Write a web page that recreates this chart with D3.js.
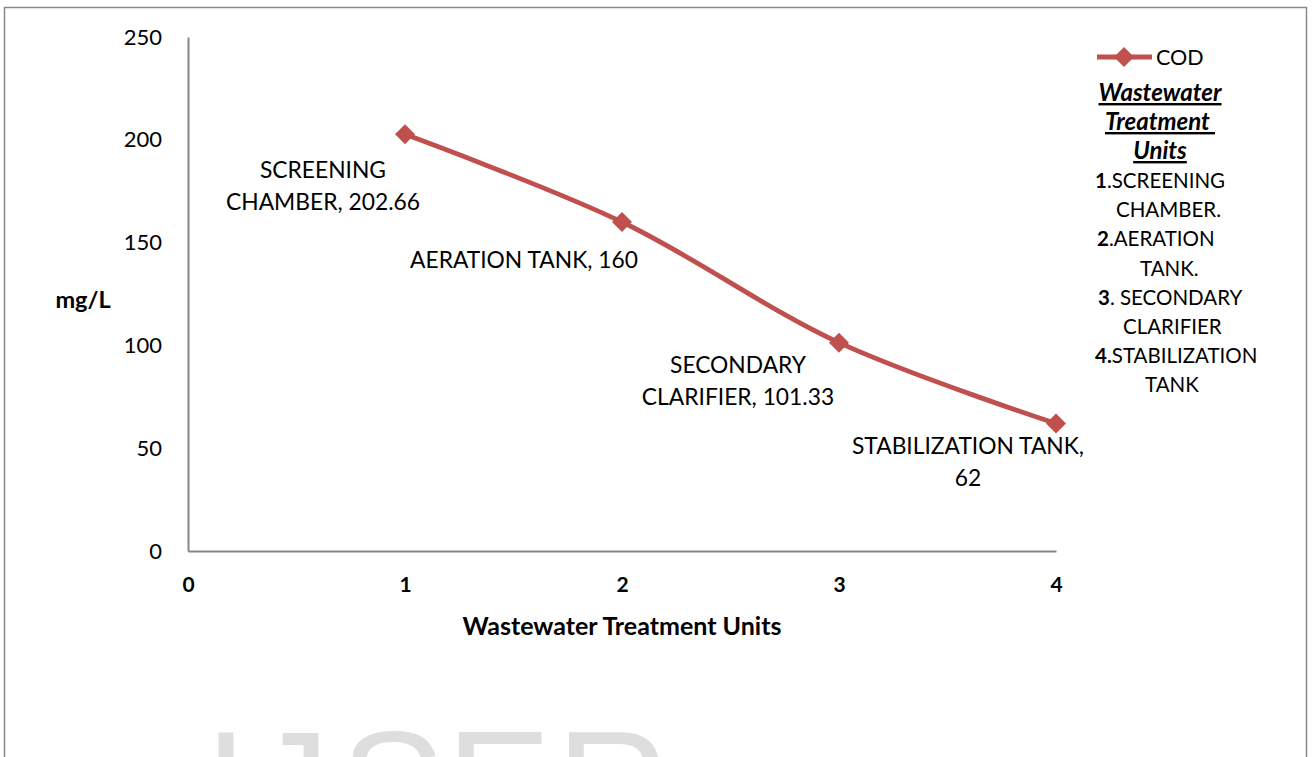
<!DOCTYPE html>
<html>
<head>
<meta charset="utf-8">
<script src="https://cdn.jsdelivr.net/npm/d3@7"></script>
<style>
  html, body { margin: 0; padding: 0; background: #fff; }
  svg { display: block; font-family: Lato, "Open Sans", sans-serif; }
</style>
</head>
<body>
<svg id="chart" width="1312" height="757"></svg>
<script>
// ---- data ----
const unitIndex = [1, 2, 3, 4];
const codValues = [202.66, 160, 101.33, 62];
const pointLabels = [
  ["SCREENING", "CHAMBER, 202.66"],
  ["AERATION TANK, 160"],
  ["SECONDARY", "CLARIFIER, 101.33"],
  ["STABILIZATION TANK,", "62"]
];
const xTicks = [0, 1, 2, 3, 4];
const yTicks = [0, 50, 100, 150, 200, 250];
const seriesName = "COD";
const xTitle = "Wastewater Treatment Units";
const yTitle = "mg/L";
const legendTitle = ["Wastewater", "Treatment ", "Units"];
const legendItems = [
  ["1", ".SCREENING"], ["", "CHAMBER."],
  ["2", ".AERATION"], ["", "TANK."],
  ["3", ". SECONDARY"], ["", "CLARIFIER"],
  ["4.", "STABILIZATION"], ["", "TANK"]
];
const watermark = ["I", "J", "S", "E", "R"];

// ---- layout ----
const svg = d3.select("#chart");
const red = "#C0504D";
const axisGrey = "#868686";

// outer frame
svg.append("path")
  .attr("d", "M4.5,800 V7.5 H1306.5 V800")
  .attr("fill", "none").attr("stroke", "#8a8a8a").attr("stroke-width", 1.5);

// watermark
const wmX = [204, 251, 340, 446, 556];
svg.append("g").selectAll("text").data(watermark).join("text")
  .attr("x", (d, i) => wmX[i]).attr("y", 841)
  .attr("font-family", "Liberation Sans, Arial, sans-serif")
  .attr("font-size", 158).attr("fill", "#dedede")
  .text(d => d);

const x = d3.scaleLinear().domain([0, 4]).range([188, 1056]);
const y = d3.scaleLinear().domain([0, 250]).range([551, 37]);

// y axis
const yAxis = svg.append("g").attr("transform", "translate(188,0)")
  .call(d3.axisLeft(y).tickValues(yTicks).tickSize(0).tickPadding(26));
yAxis.select(".domain").attr("stroke", axisGrey).attr("stroke-width", 2);
yAxis.selectAll("text").attr("font-size", 22).attr("fill", "#000")
  .attr("font-family", "Lato, sans-serif");

// x axis
const xAxis = svg.append("g").attr("transform", "translate(0,551)")
  .call(d3.axisBottom(x).tickValues(xTicks).tickSize(0).tickPadding(26).tickFormat(d3.format("d")));
xAxis.select(".domain").attr("stroke", axisGrey).attr("stroke-width", 2);
xAxis.selectAll("text").attr("font-size", 21).attr("font-weight", "bold").attr("fill", "#000")
  .attr("font-family", "Lato, sans-serif");

// axis titles
svg.append("text").attr("x", 622).attr("y", 635).attr("text-anchor", "middle")
  .attr("font-size", 25).attr("font-weight", "bold").text(xTitle);
svg.append("text").attr("x", 83).attr("y", 308).attr("text-anchor", "middle")
  .attr("font-size", 23.5).attr("font-weight", "bold").text(yTitle);

// line
const pts = unitIndex.map((u, i) => [x(u), y(codValues[i])]);
svg.append("path")
  .attr("d", d3.line().curve(d3.curveCatmullRom.alpha(0.5))(pts))
  .attr("fill", "none").attr("stroke", red).attr("stroke-width", 4.8)
  .attr("stroke-linejoin", "round");

const diamond = d3.symbol().type(d3.symbolSquare).size(200);
svg.append("g").selectAll("path").data(pts).join("path")
  .attr("d", diamond)
  .attr("transform", d => `translate(${d[0]},${d[1]}) rotate(45)`)
  .attr("fill", red);

// data labels
const labelOffsets = [[-82, 36], [-98, 38], [-101, 22], [-88, 22]];
const lineGap = 32;
pointLabels.forEach((lines, i) => {
  const t = svg.append("text")
    .attr("text-anchor", "middle").attr("font-size", 22.8).attr("fill", "#000");
  lines.forEach((ln, j) => {
    t.append("tspan")
      .attr("x", pts[i][0] + labelOffsets[i][0])
      .attr("y", pts[i][1] + labelOffsets[i][1] + j * lineGap + 8)
      .text(ln);
  });
});

// legend
const lg = svg.append("g");
lg.append("line").attr("x1", 1097).attr("x2", 1152).attr("y1", 57).attr("y2", 57)
  .attr("stroke", red).attr("stroke-width", 4.8);
lg.append("path").attr("d", diamond)
  .attr("transform", "translate(1124,57) rotate(45)").attr("fill", red);
lg.append("text").attr("x", 1156).attr("y", 65).attr("font-size", 21.5).text(seriesName);

legendTitle.forEach((t, i) => {
  lg.append("text").attr("x", 1160).attr("y", 101 + i * 29)
    .attr("text-anchor", "middle").attr("font-size", 24)
    .attr("font-weight", "bold").attr("font-style", "italic")
    .attr("text-decoration", "underline")
    .style("white-space", "pre").attr("xml:space", "preserve")
    .text(t);
});

const itemX = [1095, 1116, 1097, 1140, 1098, 1123, 1095, 1145];
legendItems.forEach((it, i) => {
  const t = lg.append("text").attr("x", itemX[i]).attr("y", 188 + i * 29.2)
    .attr("font-size", 20.5);
  if (it[0]) t.append("tspan").attr("font-weight", "bold").text(it[0]);
  t.append("tspan").text(it[1]);
});
</script>
</body>
</html>
